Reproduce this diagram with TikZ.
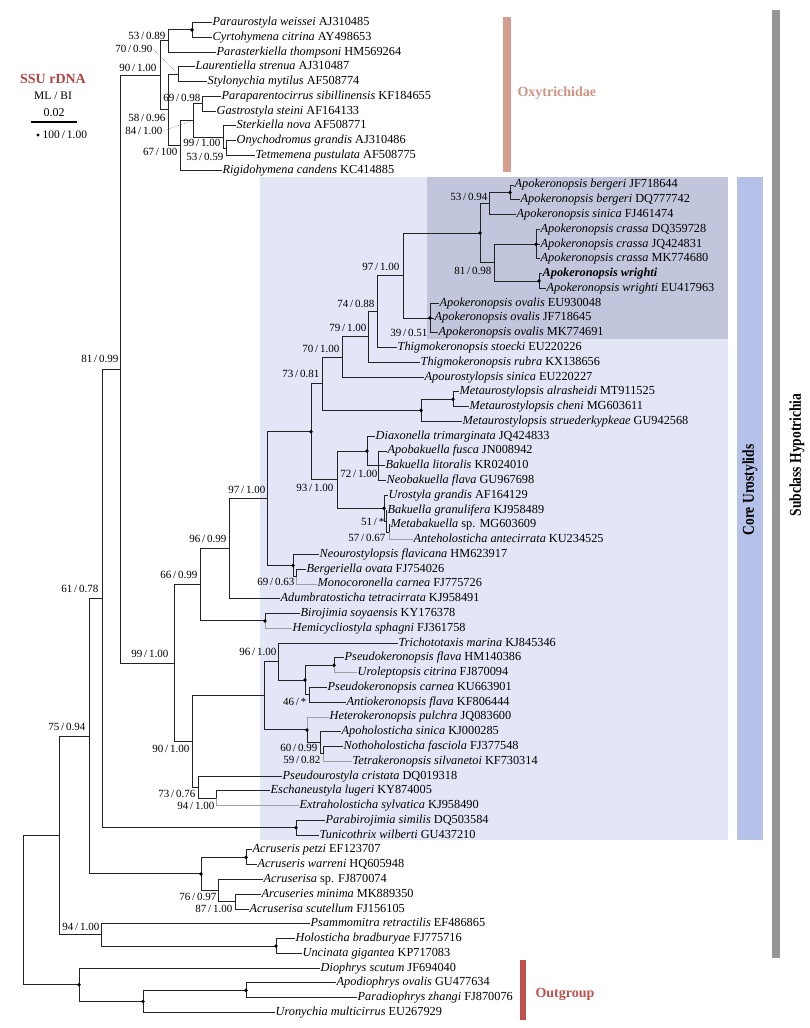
\documentclass[tikz,border=0pt]{standalone}
\usepackage{fontspec}
\setmainfont{Liberation Serif}
\usepackage{graphicx}
\definecolor{lav}{RGB}{227,230,246}
\definecolor{darkbox}{RGB}{194,198,221}
\definecolor{corebar}{RGB}{181,193,232}
\definecolor{graybar}{RGB}{150,150,150}
\definecolor{oxy}{RGB}{212,158,142}
\definecolor{oxytext}{RGB}{207,148,130}
\definecolor{outg}{RGB}{192,80,77}
\definecolor{ssu}{RGB}{178,68,68}
\definecolor{treeline}{RGB}{35,35,35}
\definecolor{thinline}{RGB}{160,160,160}
\begin{document}
\begin{tikzpicture}[x=1pt,y=-1pt,
  leaf/.style={anchor=west,inner sep=1pt,font=\fontsize{12.3}{12.3}\selectfont,text height=8.3pt,text depth=2.4pt},
  sup/.style={anchor=east,inner sep=0.5pt,font=\fontsize{11}{11}\selectfont},
  br/.style={draw=treeline,line width=1pt},
  thinbr/.style={draw=thinline,line width=0.6pt},
  dotlink/.style={draw=gray,densely dotted,line width=0.6pt},
  bigtag/.style={font=\bfseries\fontsize{14}{14}\selectfont}]
\useasboundingbox (0,0) rectangle (810,1028);
% ---------- backgrounds and bars ----------
\fill[lav] (260,177) rectangle (728,840);
\fill[darkbox] (427,177) rectangle (728,339);
\fill[corebar] (737,177) rectangle (763,840);
\fill[graybar] (772,10) rectangle (780,958);
\fill[oxy] (503,17) rectangle (511,172);
\fill[outg] (520,960) rectangle (526,1020);
\node[bigtag,text=oxytext,anchor=west] (oxylab) at (514,93) {Oxytrichidae};
\node[bigtag,text=outg,anchor=west] (outlab) at (532,994) {Outgroup};
\node[rotate=90] (corelab) at (750,490) {\scalebox{0.9}[1.1]{\bfseries\fontsize{15}{15}\selectfont Core Urostylids}};
\node[rotate=90] (sublab) at (797,455) {\scalebox{0.9}[1.1]{\bfseries\fontsize{15}{15}\selectfont Subclass Hypotrichia}};
% ---------- legend ----------
\node[bigtag,text=ssu] (ssu) at (53,79) {SSU rDNA};
\node[font=\fontsize{11.5}{11.5}\selectfont] (mlbi) at (53,96) {ML / BI};
\node[font=\fontsize{12}{12}\selectfont] (scl) at (54,113) {0.02};
\coordinate (sb1) at (31,122); \coordinate (sb2) at (77,122);
\draw[line width=2pt] (sb1) -- (sb2);
\coordinate (legdot) at (38,135);
\fill (legdot) circle[radius=1.7pt];
\node[anchor=west,inner sep=0.5pt,font=\fontsize{11.5}{11.5}\selectfont] (legtxt) at (42,135) {100\,/\,1.00};
% ---------- leaves ----------
\node[leaf] (l1) at (211.5,22.5) {\textit{Paraurostyla weissei} AJ310485};
\node[leaf] (l2) at (211.5,37.28) {\textit{Cyrtohymena citrina} AY498653};
\node[leaf] (l3) at (215.5,52.05) {\textit{Parasterkiella thompsoni} HM569264};
\node[leaf] (l4) at (194.5,66.83) {\textit{Laurentiella strenua} AJ310487};
\node[leaf] (l5) at (206.5,81.60) {\textit{Stylonychia mytilus} AF508774};
\node[leaf] (l6) at (220.5,96.38) {\textit{Paraparentocirrus sibillinensis} KF184655};
\node[leaf] (l7) at (215.5,111.16) {\textit{Gastrostyla steini} AF164133};
\node[leaf] (l8) at (235.5,125.93) {\textit{Sterkiella nova} AF508771};
\node[leaf] (l9) at (235.5,140.71) {\textit{Onychodromus grandis} AJ310486};
\node[leaf] (l10) at (254.5,155.48) {\textit{Tetmemena pustulata} AF508775};
\node[leaf] (l11) at (221.5,170.26) {\textit{Rigidohymena candens} KC414885};
\node[leaf] (l12) at (513.5,185.04) {\textit{Apokeronopsis bergeri} JF718644};
\node[leaf] (l13) at (519.5,199.81) {\textit{Apokeronopsis bergeri} DQ777742};
\node[leaf] (l14) at (515.5,214.59) {\textit{Apokeronopsis sinica} FJ461474};
\node[leaf] (l15) at (539.5,229.37) {\textit{Apokeronopsis crassa} DQ359728};
\node[leaf] (l16) at (539.5,244.14) {\textit{Apokeronopsis crassa} JQ424831};
\node[leaf] (l17) at (539.5,258.92) {\textit{Apokeronopsis crassa} MK774680};
\node[leaf] (l18) at (541.5,273.69) {\textbf{\textit{Apokeronopsis wrighti}}};
\node[leaf] (l19) at (545.5,288.47) {\textit{Apokeronopsis wrighti} EU417963};
\node[leaf] (l20) at (438.5,303.25) {\textit{Apokeronopsis ovalis} EU930048};
\node[leaf] (l21) at (433.5,318.02) {\textit{Apokeronopsis ovalis} JF718645};
\node[leaf] (l22) at (437.5,332.80) {\textit{Apokeronopsis ovalis} MK774691};
\node[leaf] (l23) at (396.5,347.57) {\textit{Thigmokeronopsis stoecki} EU220226};
\node[leaf] (l24) at (419.5,362.35) {\textit{Thigmokeronopsis rubra} KX138656};
\node[leaf] (l25) at (423.5,377.13) {\textit{Apourostylopsis sinica} EU220227};
\node[leaf] (l26) at (458.5,391.90) {\textit{Metaurostylopsis alrasheidi} MT911525};
\node[leaf] (l27) at (468.5,406.68) {\textit{Metaurostylopsis cheni} MG603611};
\node[leaf] (l28) at (461.5,421.46) {\textit{Metaurostylopsis struederkypkeae} GU942568};
\node[leaf] (l29) at (374.5,436.23) {\textit{Diaxonella trimarginata} JQ424833};
\node[leaf] (l30) at (386.5,451.01) {\textit{Apobakuella fusca} JN008942};
\node[leaf] (l31) at (384.5,465.78) {\textit{Bakuella litoralis} KR024010};
\node[leaf] (l32) at (385.5,480.56) {\textit{Neobakuella flava} GU967698};
\node[leaf] (l33) at (387.5,495.34) {\textit{Urostyla grandis} AF164129};
\node[leaf] (l34) at (386.5,510.11) {\textit{Bakuella granulifera} KJ958489};
\node[leaf] (l35) at (389.5,524.89) {\textit{Metabakuella} sp. MG603609};
\node[leaf] (l36) at (412.5,539.66) {\textit{Anteholosticha antecirrata} KU234525};
\node[leaf] (l37) at (318.5,554.44) {\textit{Neourostylopsis flavicana} HM623917};
\node[leaf] (l38) at (305.5,569.22) {\textit{Bergeriella ovata} FJ754026};
\node[leaf] (l39) at (316.5,583.99) {\textit{Monocoronella carnea} FJ775726};
\node[leaf] (l40) at (279.5,598.77) {\textit{Adumbratosticha tetracirrata} KJ958491};
\node[leaf] (l41) at (299.5,613.55) {\textit{Birojimia soyaensis} KY176378};
\node[leaf] (l42) at (291.5,628.32) {\textit{Hemicycliostyla sphagni} FJ361758};
\node[leaf] (l43) at (397.5,643.10) {\textit{Trichototaxis marina} KJ845346};
\node[leaf] (l44) at (343.5,657.87) {\textit{Pseudokeronopsis flava} HM140386};
\node[leaf] (l45) at (356.5,672.65) {\textit{Uroleptopsis citrina} FJ870094};
\node[leaf] (l46) at (326.5,687.43) {\textit{Pseudokeronopsis carnea} KU663901};
\node[leaf] (l47) at (345.5,702.20) {\textit{Antiokeronopsis flava} KF806444};
\node[leaf] (l48) at (328.5,716.98) {\textit{Heterokeronopsis pulchra} JQ083600};
\node[leaf] (l49) at (340.5,731.75) {\textit{Apoholosticha sinica} KJ000285};
\node[leaf] (l50) at (342.5,746.53) {\textit{Nothoholosticha fasciola} FJ377548};
\node[leaf] (l51) at (351.5,761.31) {\textit{Tetrakeronopsis silvanetoi} KF730314};
\node[leaf] (l52) at (281.5,776.08) {\textit{Pseudourostyla cristata} DQ019318};
\node[leaf] (l53) at (269.5,790.86) {\textit{Eschaneustyla lugeri} KY874005};
\node[leaf] (l54) at (298.5,805.64) {\textit{Extraholosticha sylvatica} KJ958490};
\node[leaf] (l55) at (324.5,820.41) {\textit{Parabirojimia similis} DQ503584};
\node[leaf] (l56) at (318.5,835.19) {\textit{Tunicothrix wilberti} GU437210};
\node[leaf] (l57) at (251.5,849.96) {\textit{Acruseris petzi} EF123707};
\node[leaf] (l58) at (256.5,864.74) {\textit{Acruseris warreni} HQ605948};
\node[leaf] (l59) at (262.5,879.52) {\textit{Acruserisa} sp. FJ870074};
\node[leaf] (l60) at (260.5,894.29) {\textit{Arcuseries minima} MK889350};
\node[leaf] (l61) at (248.5,909.07) {\textit{Acruserisa scutellum} FJ156105};
\node[leaf] (l62) at (309.5,923.84) {\textit{Psammomitra retractilis} EF486865};
\node[leaf] (l63) at (294.5,938.62) {\textit{Holosticha bradburyae} FJ775716};
\node[leaf] (l64) at (301.5,953.40) {\textit{Uncinata gigantea} KP717083};
\node[leaf] (l65) at (319.5,968.17) {\textit{Diophrys scutum} JF694040};
\node[leaf] (l66) at (335.5,982.95) {\textit{Apodiophrys ovalis} GU477634};
\node[leaf] (l67) at (356.5,997.72) {\textit{Paradiophrys zhangi} FJ870076};
\node[leaf] (l68) at (274.5,1012.50) {\textit{Uronychia multicirrus} EU267929};
% ---------- internal nodes ----------
\coordinate (PC) at (192,29.89);
\coordinate (A) at (168,40.97);
\coordinate (LS) at (178,74.22);
\coordinate (P) at (202,103.77);
\coordinate (OT) at (226,148.10);
\coordinate (S) at (223,137.01);
\coordinate (Q) at (193,120.39);
\coordinate (R) at (180,145.33);
\coordinate (B) at (168,109.77);
\coordinate (O1) at (160,75.37);
\coordinate (BG) at (510,192.43);
\coordinate (BS) at (489,203.51);
\coordinate (CR) at (536,244.14);
\coordinate (WR) at (539,281.08);
\coordinate (CW) at (494,262.61);
\coordinate (AP) at (480,233.06);
\coordinate (OV) at (430,318.02);
\coordinate (N97a) at (403,275.54);
\coordinate (N74) at (377,311.56);
\coordinate (N79) at (368,336.96);
\coordinate (N70) at (342,357.05);
\coordinate (AC) at (453,399.29);
\coordinate (MT) at (421,410.38);
\coordinate (N73) at (322,383.71);
\coordinate (ABN) at (378,465.78);
\coordinate (N72) at (367,451.01);
\coordinate (N3) at (389,532.28);
\coordinate (N2) at (386,521.19);
\coordinate (N1) at (384,508.27);
\coordinate (N93) at (337,479.64);
\coordinate (DT) at (311,431.68);
\coordinate (BM) at (296,576.61);
\coordinate (NE) at (293,565.52);
\coordinate (N97b) at (267,498.60);
\coordinate (N96a) at (229,548.69);
\coordinate (BH) at (265,620.94);
\coordinate (N66) at (200,584.81);
\coordinate (PU) at (334,665.26);
\coordinate (CA) at (309,694.81);
\coordinate (PG) at (305,680.04);
\coordinate (N96b) at (278,661.57);
\coordinate (N59) at (323,753.92);
\coordinate (N60) at (320,742.84);
\coordinate (HA) at (307,729.91);
\coordinate (X) at (264,695.74);
\coordinate (N94b) at (216,798.25);
\coordinate (N73b) at (198,787.17);
\coordinate (N90) at (192,741.46);
\coordinate (N99) at (174,663.13);
\coordinate (N81) at (120,369.25);
\coordinate (PT) at (296,827.80);
\coordinate (N61) at (102,598.52);
\coordinate (PW) at (246,857.35);
\coordinate (N87) at (235,901.68);
\coordinate (N76) at (218,890.60);
\coordinate (AR) at (201,873.98);
\coordinate (N75) at (89,736.25);
\coordinate (HU) at (276,946.01);
\coordinate (N94a) at (101,934.93);
\coordinate (H) at (59,835.59);
\coordinate (AZ) at (246,990.34);
\coordinate (UZ) at (143,1001.42);
\coordinate (OG) at (79,984.80);
\coordinate (ROOT) at (23,910.20);
% ---------- thin branches ----------
\draw[thinbr] (N3) |- (l36.west);
\draw[thinbr] (BM) |- (l39.west);
\draw[thinbr] (BH) |- (l42.west);
\draw[thinbr] (PU) |- (l45.west);
\draw[thinbr] (HA) |- (l48.west);
\draw[thinbr] (N59) |- (l51.west);
\draw[thinbr] (N94b) |- (l54.west);
% ---------- branches ----------
\draw[br] (PC) |- (l1.west) (PC) |- (l2.west);
\draw[br] (A) |- (PC) (A) |- (l3.west);
\draw[br] (LS) |- (l4.west) (LS) |- (l5.west);
\draw[br] (P) |- (l6.west) (P) |- (l7.west);
\draw[br] (OT) |- (l9.west) (OT) |- (l10.west);
\draw[br] (S) |- (l8.west) (S) |- (OT);
\draw[br] (Q) |- (P) (Q) |- (S);
\draw[br] (R) |- (Q) (R) |- (l11.west);
\draw[br] (B) |- (LS) (B) |- (R);
\draw[br] (O1) |- (A) (O1) |- (B);
\draw[br] (BG) |- (l12.west) (BG) |- (l13.west);
\draw[br] (BS) |- (BG) (BS) |- (l14.west);
\draw[br] (CR) |- (l15.west) (CR) |- (l16.west) (CR) |- (l17.west);
\draw[br] (WR) |- (l18.west) (WR) |- (l19.west);
\draw[br] (CW) |- (CR) (CW) |- (WR);
\draw[br] (AP) |- (BS) (AP) |- (CW);
\draw[br] (OV) |- (l20.west) (OV) |- (l21.west) (OV) |- (l22.west);
\draw[br] (N97a) |- (AP) (N97a) |- (OV);
\draw[br] (N74) |- (N97a) (N74) |- (l23.west);
\draw[br] (N79) |- (N74) (N79) |- (l24.west);
\draw[br] (N70) |- (N79) (N70) |- (l25.west);
\draw[br] (AC) |- (l26.west) (AC) |- (l27.west);
\draw[br] (MT) |- (AC) (MT) |- (l28.west);
\draw[br] (N73) |- (N70) (N73) |- (MT);
\draw[br] (ABN) |- (l30.west) (ABN) |- (l31.west) (ABN) |- (l32.west);
\draw[br] (N72) |- (l29.west) (N72) |- (ABN);
\draw[br] (N3) |- (l35.west);
\draw[br] (N2) |- (l34.west) (N2) |- (N3);
\draw[br] (N1) |- (l33.west) (N1) |- (N2);
\draw[br] (N93) |- (N72) (N93) |- (N1);
\draw[br] (DT) |- (N73) (DT) |- (N93);
\draw[br] (BM) |- (l38.west);
\draw[br] (NE) |- (l37.west) (NE) |- (BM);
\draw[br] (N97b) |- (DT) (N97b) |- (NE);
\draw[br] (N96a) |- (N97b) (N96a) |- (l40.west);
\draw[br] (BH) |- (l41.west);
\draw[br] (N66) |- (N96a) (N66) |- (BH);
\draw[br] (PU) |- (l44.west);
\draw[br] (CA) |- (l46.west) (CA) |- (l47.west);
\draw[br] (PG) |- (PU) (PG) |- (CA);
\draw[br] (N96b) |- (l43.west) (N96b) |- (PG);
\draw[br] (N59) |- (l50.west);
\draw[br] (N60) |- (l49.west) (N60) |- (N59);
\draw[br] (HA) |- (N60);
\draw[br] (X) |- (N96b) (X) |- (HA);
\draw[br] (N94b) |- (l53.west);
\draw[br] (N73b) |- (l52.west) (N73b) |- (N94b);
\draw[br] (N90) |- (X) (N90) |- (N73b);
\draw[br] (N99) |- (N66) (N99) |- (N90);
\draw[br] (N81) |- (O1) (N81) |- (N99);
\draw[br] (PT) |- (l55.west) (PT) |- (l56.west);
\draw[br] (N61) |- (N81) (N61) |- (PT);
\draw[br] (PW) |- (l57.west) (PW) |- (l58.west);
\draw[br] (N87) |- (l60.west) (N87) |- (l61.west);
\draw[br] (N76) |- (l59.west) (N76) |- (N87);
\draw[br] (AR) |- (PW) (AR) |- (N76);
\draw[br] (N75) |- (N61) (N75) |- (AR);
\draw[br] (HU) |- (l63.west) (HU) |- (l64.west);
\draw[br] (N94a) |- (l62.west) (N94a) |- (HU);
\draw[br] (H) |- (N75) (H) |- (N94a);
\draw[br] (AZ) |- (l66.west) (AZ) |- (l67.west);
\draw[br] (UZ) |- (AZ) (UZ) |- (l68.west);
\draw[br] (OG) |- (l65.west) (OG) |- (UZ);
\draw[br] (ROOT) |- (H) (ROOT) |- (OG);
% ---------- full-support dots ----------
\foreach \d in {PC,BG,CR,WR,AP,OV,AC,MT,N72,N1,DT,NE,BH,PU,PG,HA,PT,PW,AR,HU,AZ,UZ,OG}
  \fill[black] (\d) circle[radius=1.9pt];
% ---------- support values ----------
\node[sup] (s1) at (166,36) {53\,/\,0.89};
\node[sup] (s2) at (153,49) {70\,/\,0.90};
\node[sup] (s3) at (157,68) {90\,/\,1.00};
\node[sup] (s4) at (201,98) {69\,/\,0.98};
\node[sup] (s5) at (166,118) {58\,/\,0.96};
\node[sup] (s6) at (163,131) {84\,/\,1.00};
\node[sup] (s7) at (221,143) {99\,/\,1.00};
\node[sup] (s8) at (178,152) {67\,/\,100};
\node[sup] (s9) at (224,157) {53\,/\,0.59};
\draw[dotlink] (s2.east) -- (LS);
\draw[dotlink] (s6.east) -- (Q);
\node[sup] (s10) at (488,197) {53\,/\,0.94};
\node[sup] (s11) at (492,271) {81\,/\,0.98};
\node[sup] (s12) at (400,267) {97\,/\,1.00};
\node[sup] (s13) at (375,304) {74\,/\,0.88};
\node[sup] (s14) at (367,328) {79\,/\,1.00};
\node[sup] (s15) at (428,333) {39\,/\,0.51};
\node[sup] (s16) at (340,349) {70\,/\,1.00};
\node[sup] (s17) at (320,374) {73\,/\,0.81};
\node[sup] (s18) at (378,474) {72\,/\,1.00};
\node[sup] (s19) at (334,488) {93\,/\,1.00};
\node[sup] (s20) at (266,490) {97\,/\,1.00};
\node[sup] (s21) at (385,522) {51\,/\,*};
\node[sup] (s22) at (386,538) {57\,/\,0.67};
\node[sup] (s23) at (227,539) {96\,/\,0.99};
\node[sup] (s24) at (198,575) {66\,/\,0.99};
\node[sup] (s25) at (295,582) {69\,/\,0.63};
\node[sup] (s26) at (99,589) {61\,/\,0.78};
\node[sup] (s27) at (277,652) {96\,/\,1.00};
\node[sup] (s28) at (169,654) {99\,/\,1.00};
\node[sup] (s29) at (307,702) {46\,/\,*};
\node[sup] (s30) at (86,727) {75\,/\,0.94};
\node[sup] (s31) at (318,748) {60\,/\,0.99};
\node[sup] (s32) at (190,749) {90\,/\,1.00};
\node[sup] (s33) at (321,760) {59\,/\,0.82};
\node[sup] (s34) at (196,794) {73\,/\,0.76};
\node[sup] (s35) at (215,806) {94\,/\,1.00};
\node[sup] (s36) at (217,897) {76\,/\,0.97};
\node[sup] (s37) at (233,909) {87\,/\,1.00};
\node[sup] (s38) at (100,927) {94\,/\,1.00};
\node[sup] (s39) at (119,359) {81\,/\,0.99};
\end{tikzpicture}
\end{document}
